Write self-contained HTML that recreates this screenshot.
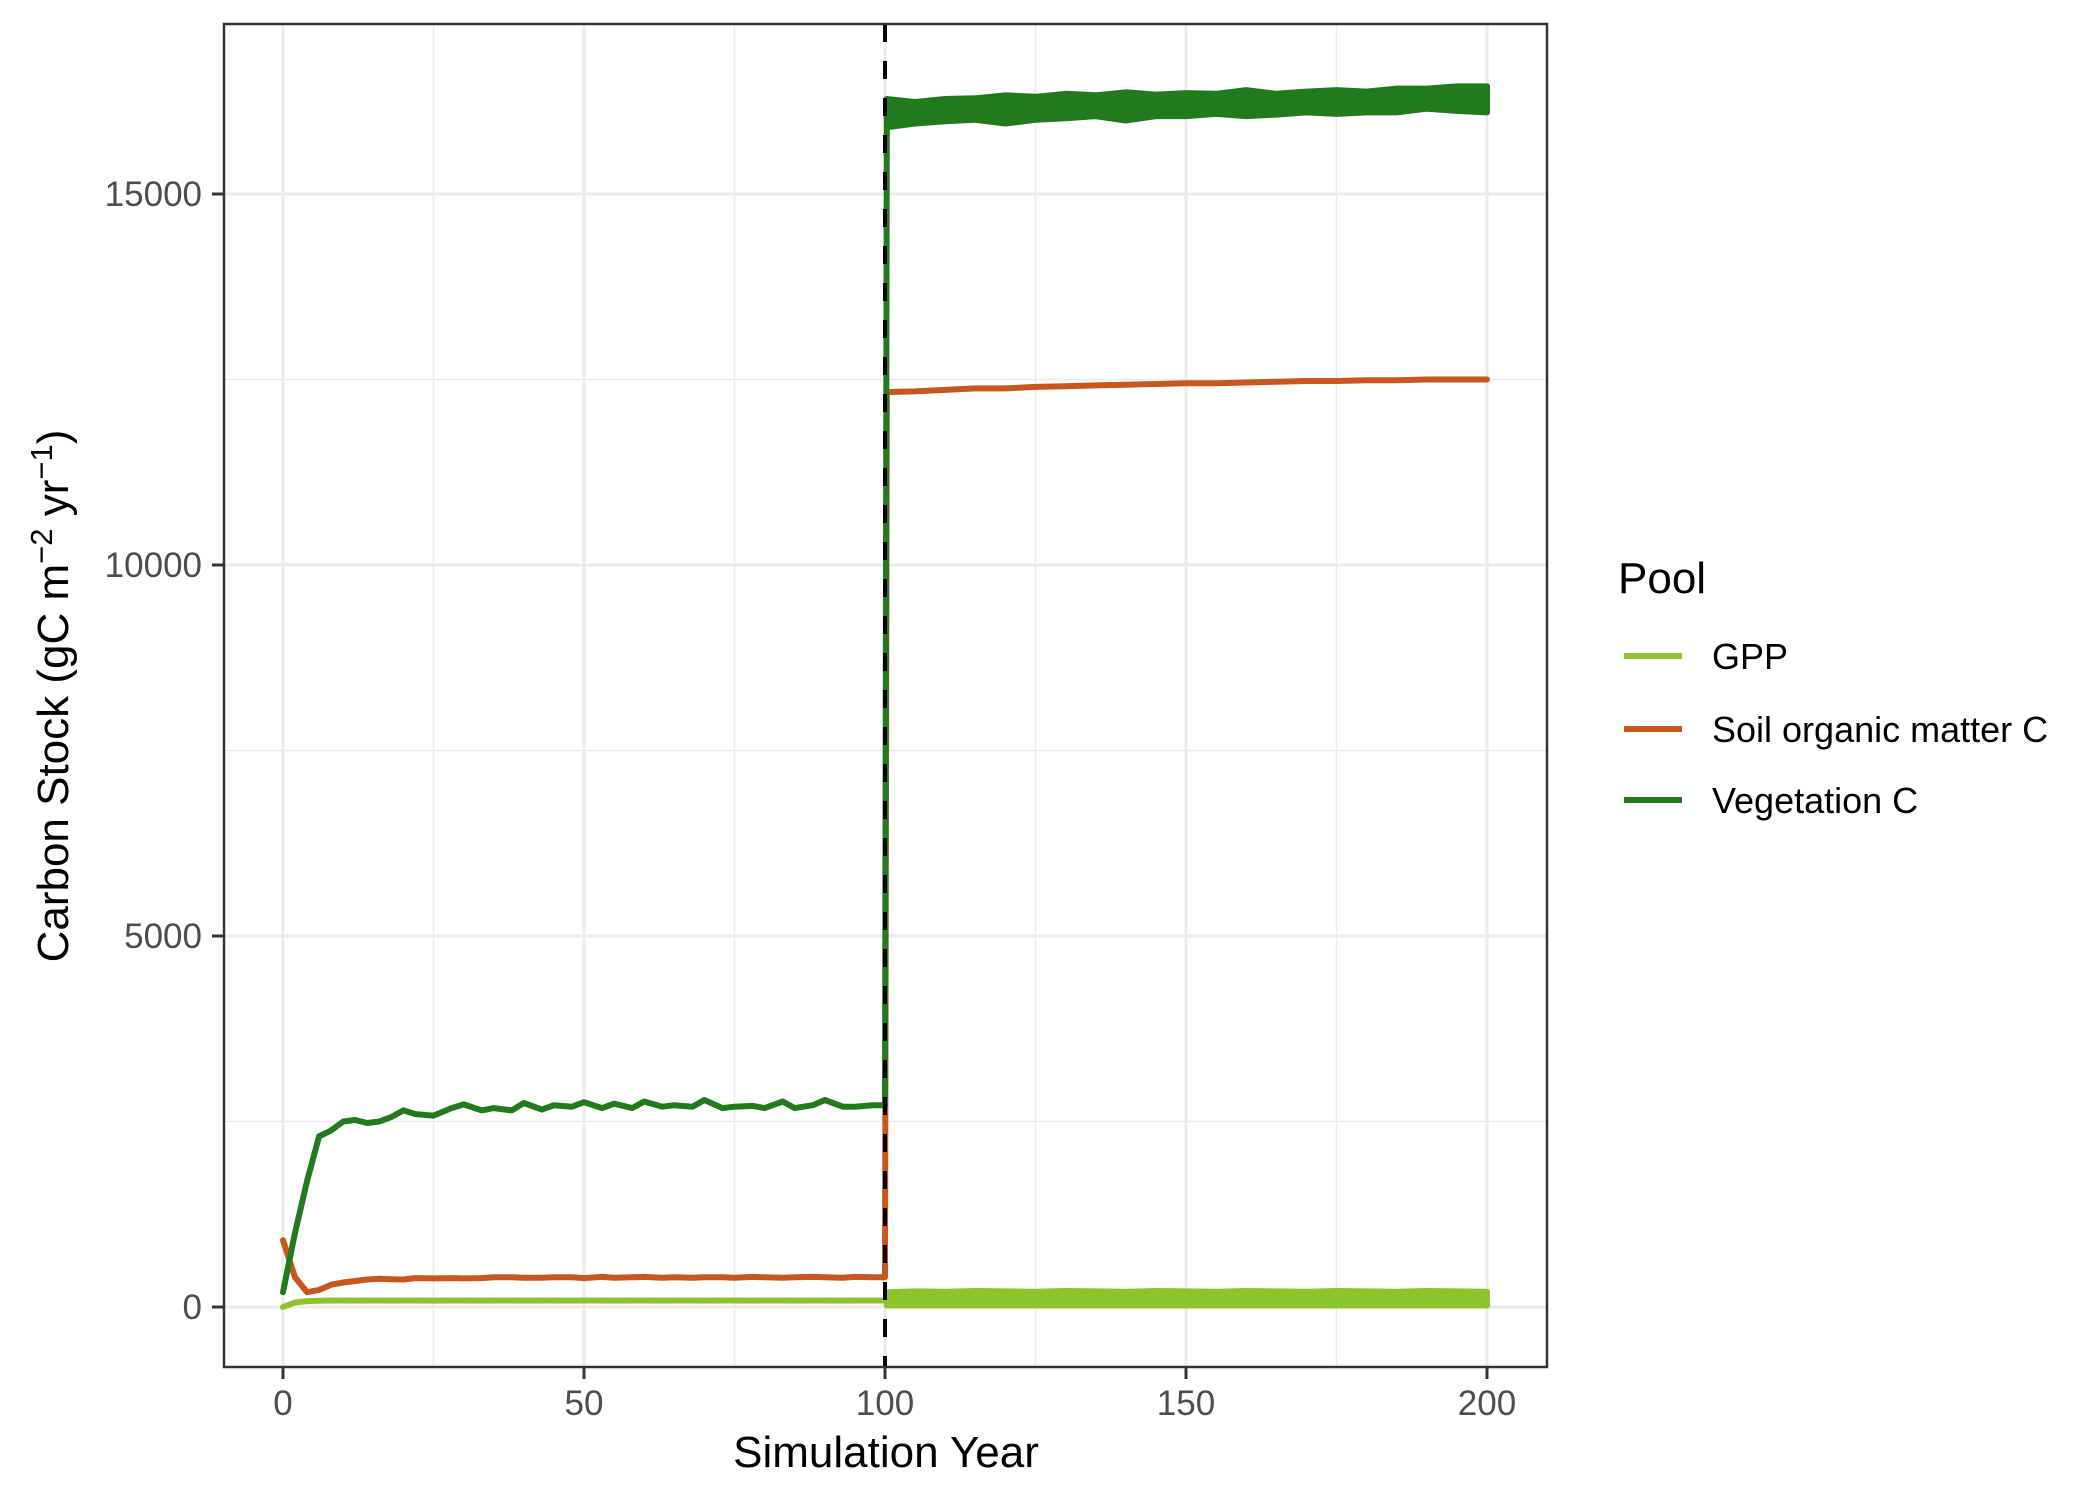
<!DOCTYPE html>
<html><head><meta charset="utf-8">
<style>
html,body{margin:0;padding:0;background:#fff;}
svg{display:block;font-family:"Liberation Sans",Arial,sans-serif;}
</style></head>
<body>
<svg id="chart" width="2100" height="1500" viewBox="0 0 2100 1500" xmlns="http://www.w3.org/2000/svg">
<rect width="2100" height="1500" fill="#fff"/>
<g id="grid"></g>
<g id="series"></g>
<rect x="224" y="24" width="1323" height="1343" fill="none" stroke="#333" stroke-width="2.5"/>
<g id="axes"></g>
<text x="886" y="1467" font-size="44" text-anchor="middle" fill="#000">Simulation Year</text>
<text transform="translate(68,696) rotate(-90)" font-size="44" text-anchor="middle" fill="#000">Carbon Stock (gC m<tspan font-size="31" dy="-16">−2</tspan><tspan dy="16"> yr</tspan><tspan font-size="31" dy="-16">−1</tspan><tspan dy="16">)</tspan></text>
<g>
<text x="1618" y="593" font-size="44" fill="#000">Pool</text>
<g>
<line x1="1624" y1="656" x2="1682" y2="656" stroke="#8DC42A" stroke-width="6"/>
<text x="1712" y="669" font-size="36" fill="#000">GPP</text></g>
<g>
<line x1="1624" y1="729" x2="1682" y2="729" stroke="#C9561C" stroke-width="6"/>
<text x="1712" y="742" font-size="36" fill="#000">Soil organic matter C</text></g>
<g>
<line x1="1624" y1="800" x2="1682" y2="800" stroke="#217B1D" stroke-width="6"/>
<text x="1712" y="813" font-size="36" fill="#000">Vegetation C</text></g>
</g>
</svg>
<script>
const xTicks=[0,50,100,150,200];
const xMinor=[25,75,125,175];
const yTicks=[0,5000,10000,15000];
const yMinor=[2500,7500,12500];
const preYears=[0,2,4,6,8,10,12,14,16,18,20,22,25,28,30,33,35,38,40,43,45,48,50,53,55,58,60,63,65,68,70,73,75,78,80,83,85,88,90,93,95,98,100];
const vegPre=[200,1000,1700,2300,2380,2500,2520,2480,2500,2560,2650,2600,2580,2680,2730,2650,2680,2650,2750,2660,2720,2700,2760,2680,2740,2680,2770,2700,2720,2700,2790,2680,2700,2710,2680,2770,2680,2720,2790,2700,2700,2720,2720];
const soilPre=[900,400,200,230,300,330,350,370,380,375,370,390,385,390,385,390,400,400,395,395,400,400,390,405,395,400,405,395,400,395,400,400,395,405,400,395,400,405,400,395,405,400,400];
const gppPre=[0,60,80,85,88,88,86,88,87,86,88,87,86,88,87,86,88,87,86,88,87,86,88,87,86,88,87,86,88,87,86,88,87,86,88,87,86,88,87,86,88,87,88];
const postYears=[100.3,105,110,115,120,125,130,135,140,145,150,155,160,165,170,175,180,185,190,195,200];
const vegPostLow=[15900,15950,15980,16000,15950,16000,16020,16050,15990,16050,16050,16080,16050,16070,16100,16080,16100,16100,16150,16120,16100];
const vegPostHigh=[16280,16240,16280,16290,16330,16310,16350,16330,16370,16340,16360,16350,16400,16350,16380,16400,16380,16420,16420,16450,16450];
const soilPost=[12330,12340,12360,12380,12380,12400,12410,12420,12430,12440,12450,12450,12460,12470,12480,12480,12490,12490,12500,12500,12500];
const gppPostLow=[20,20,20,20,20,20,20,20,20,20,20,20,20,20,20,20,20,20,20,20,20];
const gppPostHigh=[200,210,205,215,210,205,215,210,205,215,210,205,215,210,205,215,210,205,215,210,205];

const NS='http://www.w3.org/2000/svg';
const X=v=>283+v*6.02;
const Y=v=>1307-v*371/5000;
const L=224,R=1547,T=24,B=1367;
function mk(tag,attrs,parent){const e=document.createElementNS(NS,tag);for(const k in attrs)e.setAttribute(k,attrs[k]);parent.appendChild(e);return e;}
const grid=document.getElementById('grid'),series=document.getElementById('series'),axes=document.getElementById('axes');
yMinor.forEach(v=>{const e=mk('line',{x1:L,x2:R,y1:Y(v),y2:Y(v),stroke:'#EBEBEB','stroke-width':1.5},grid);

});
xMinor.forEach(v=>{const e=mk('line',{x1:X(v),x2:X(v),y1:T,y2:B,stroke:'#EBEBEB','stroke-width':1.5},grid);

});
yTicks.forEach(v=>{const e=mk('line',{x1:L,x2:R,y1:Y(v),y2:Y(v),stroke:'#EBEBEB','stroke-width':3},grid);


const t=mk('line',{x1:L-12,x2:L,y1:Y(v),y2:Y(v),stroke:'#333','stroke-width':3},axes);


const s=mk('text',{x:L-22,y:Y(v)+12,'font-size':35,'text-anchor':'end',fill:'#4D4D4D'},axes);s.textContent=v;

});
xTicks.forEach(v=>{const e=mk('line',{x1:X(v),x2:X(v),y1:T,y2:B,stroke:'#EBEBEB','stroke-width':3},grid);


const t=mk('line',{x1:X(v),x2:X(v),y1:B,y2:B+12,stroke:'#333','stroke-width':3},axes);


const s=mk('text',{x:X(v),y:1415,'font-size':35,'text-anchor':'middle',fill:'#4D4D4D'},axes);s.textContent=v;

});
function pts(xs,ys){return xs.map((x,i)=>X(x).toFixed(1)+','+Y(ys[i]).toFixed(1)).join(' ');}
function band(xs,lo,hi,color,name){
 const d=pts(xs,hi)+' '+pts(xs.slice().reverse(),lo.slice().reverse());
 const p=mk('polygon',{points:d,fill:color,stroke:color,'stroke-width':6,'stroke-linejoin':'round'},series);
 
 }
function line(xs,ys,color,name){
 const p=mk('polyline',{points:pts(xs,ys),fill:'none',stroke:color,'stroke-width':6,'stroke-linejoin':'round','stroke-linecap':'round'},series);
 
 }
// soil
line(preYears.concat(postYears),soilPre.concat(soilPost),'#C9561C','soil-line');
// vegetation
line(preYears.concat([postYears[0]]),vegPre.concat([vegPostLow[0]]),'#217B1D','vegetation-line');
band(postYears,vegPostLow,vegPostHigh,'#217B1D','vegetation-band');
// gpp
line(preYears,gppPre,'#8DC42A','gpp-line');
band(postYears,gppPostLow,gppPostHigh,'#8DC42A','gpp-band');
const dl=mk('line',{x1:X(100),x2:X(100),y1:T,y2:B,stroke:'#000','stroke-width':4,'stroke-dasharray':'18 19'},series);


</script>
</body></html>
